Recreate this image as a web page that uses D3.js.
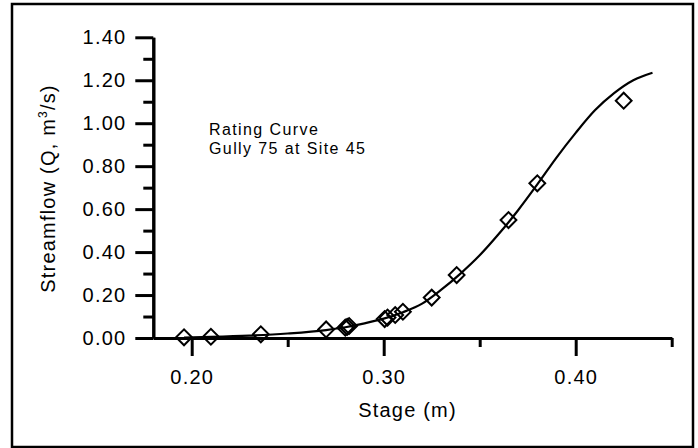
<!DOCTYPE html>
<html>
<head>
<meta charset="utf-8">
<script src="https://cdn.jsdelivr.net/npm/d3@7"></script>
<style>
  html, body { margin: 0; padding: 0; background: #fff; }
  svg text { font-family: "Liberation Sans", Arial, sans-serif; fill: #000; }
</style>
</head>
<body>
<svg id="chart" width="698" height="448"></svg>
<script>
// Measured stage (m) and streamflow (m³/s) observations
const stage = [0.196, 0.210, 0.236, 0.270, 0.280, 0.281, 0.282, 0.3005, 0.302, 0.306, 0.310, 0.325, 0.338, 0.365, 0.380, 0.425];
const flow  = [0.003, 0.006, 0.017, 0.040, 0.048, 0.052, 0.056, 0.088, 0.095, 0.107, 0.122, 0.188, 0.293, 0.549, 0.720, 1.105];

// Fitted rating curve, sampled along the stage range
const curveStage = [0.196, 0.21, 0.23, 0.25, 0.27, 0.28, 0.29, 0.30, 0.31, 0.32, 0.33, 0.34, 0.35, 0.36, 0.37, 0.38, 0.39, 0.40, 0.41, 0.42, 0.43, 0.44];
const curveFlow  = [0.002, 0.005, 0.011, 0.021, 0.037, 0.050, 0.068, 0.090, 0.120, 0.160, 0.225, 0.300, 0.385, 0.485, 0.595, 0.715, 0.840, 0.955, 1.060, 1.140, 1.200, 1.235];

// Axis ticks
const xMajor = [0.20, 0.30, 0.40];
const xMinor = [0.25, 0.35, 0.45];
const yMajor = [0.0, 0.2, 0.4, 0.6, 0.8, 1.0, 1.2, 1.4];
const yMinor = [0.1, 0.3, 0.5, 0.7, 0.9, 1.1, 1.3];

const noteLines = ["Rating Curve", "Gully 75 at Site 45"];

const svg = d3.select("#chart");

// Outer frame
svg.append("rect")
  .attr("x", 12).attr("y", 4)
  .attr("width", 681).attr("height", 443)
  .attr("fill", "#fff").attr("stroke", "#000").attr("stroke-width", 2.5);

const x = d3.scaleLinear().domain([0.18, 0.45]).range([153.3, 671.7]);
const y = d3.scaleLinear().domain([0, 1.4]).range([338, 37.3]);

const fmt = d3.format(".2f");

function styleAxis(g) {
  g.selectAll("path.domain").attr("stroke", "#000").attr("stroke-width", 3);
  g.selectAll(".tick line").attr("stroke", "#000").attr("stroke-width", 3);
  g.selectAll(".tick text")
    .attr("font-size", 20)
    .attr("letter-spacing", "1.2px")
    .attr("font-family", "Liberation Sans, Arial, sans-serif");
}

// Y axis: minor then major ticks
svg.append("g")
  .attr("transform", `translate(${x(0.18)},0)`)
  .call(d3.axisLeft(y).tickValues(yMinor).tickSize(10).tickSizeOuter(0).tickFormat(""))
  .call(styleAxis);
svg.append("g")
  .attr("transform", `translate(${x(0.18)},0)`)
  .call(d3.axisLeft(y).tickValues(yMajor).tickSize(18).tickSizeOuter(0).tickPadding(9).tickFormat(fmt))
  .call(styleAxis);

// X axis: minor then major ticks
svg.append("g")
  .attr("transform", `translate(0,${y(0)})`)
  .call(d3.axisBottom(x).tickValues(xMinor).tickSize(9).tickSizeOuter(0).tickFormat(""))
  .call(styleAxis);
svg.append("g")
  .attr("transform", `translate(0,${y(0)})`)
  .call(d3.axisBottom(x).tickValues(xMajor).tickSize(18).tickSizeOuter(0).tickPadding(14).tickFormat(fmt))
  .call(styleAxis);

// Axis titles
svg.append("text")
  .attr("x", 407.5).attr("y", 417)
  .attr("text-anchor", "middle")
  .attr("font-size", 20).attr("letter-spacing", "1.2px")
  .text("Stage (m)");

const yTitle = svg.append("text")
  .attr("transform", "translate(55,188.5) rotate(-90)")
  .attr("text-anchor", "middle")
  .attr("font-size", 20).attr("letter-spacing", "1.2px");
yTitle.append("tspan").text("Streamflow (Q, m");
yTitle.append("tspan").attr("font-size", 12).attr("dy", -8).text("3");
yTitle.append("tspan").attr("dy", 8).text("/s)");

// Rating curve
const pts = curveStage.map((s, i) => [s, curveFlow[i]]);
svg.append("path")
  .datum(pts)
  .attr("fill", "none")
  .attr("stroke", "#000")
  .attr("stroke-width", 2.2)
  .attr("d", d3.line().x(d => x(d[0])).y(d => y(d[1])).curve(d3.curveMonotoneX));

// Observations as open diamonds
const diamond = d3.symbol().type(d3.symbolSquare).size(125);
svg.append("g").selectAll("path")
  .data(stage.map((s, i) => [s, flow[i]]))
  .join("path")
  .attr("d", diamond)
  .attr("transform", d => `translate(${x(d[0])},${y(d[1])}) rotate(45)`)
  .attr("fill", "none")
  .attr("stroke", "#000")
  .attr("stroke-width", 2);

// Annotation
svg.append("g").selectAll("text")
  .data(noteLines)
  .join("text")
  .attr("x", 209)
  .attr("y", (d, i) => 135 + i * 18.5)
  .attr("font-size", 16)
  .attr("letter-spacing", "1.4px")
  .text(d => d);
</script>
</body>
</html>
